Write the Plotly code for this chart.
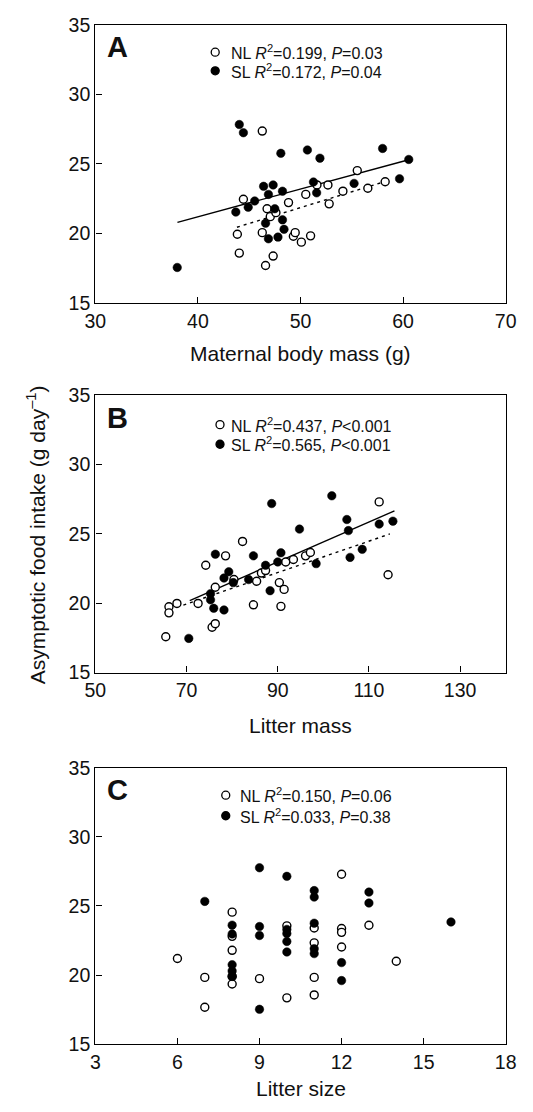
import plotly.graph_objects as go

# ---------------- data ----------------
# Panel A: maternal body mass (g) vs asymptotic food intake (g/day)
a_nl_x = [46.27, 44.43, 43.84, 44.03, 46.27, 46.59, 47.33, 46.74, 47.05, 47.6, 48.83,
          49.3, 49.48, 50.08, 50.51, 50.98, 51.6, 52.67, 52.79, 54.13, 55.53, 56.56, 58.25]
a_nl_y = [27.36, 22.46, 19.95, 18.59, 20.06, 17.70, 18.38, 21.78, 21.21, 21.5, 22.22,
          19.8, 20.06, 19.38, 22.81, 19.83, 23.49, 23.49, 22.13, 23.04, 24.52, 23.25, 23.72]
a_sl_x = [44.03, 44.43, 48.08, 50.67, 51.89, 58.0, 60.55, 59.65, 55.22, 51.26, 51.57, 46.4,
          47.33, 48.24, 46.87, 45.53, 44.9, 43.69, 47.49, 46.59, 48.24, 48.39, 46.87, 47.8, 37.98]
a_sl_y = [27.83, 27.24, 25.76, 26.0, 25.41, 26.11, 25.32, 23.93, 23.6, 23.7, 22.92, 23.39,
          23.49, 23.04, 22.81, 22.34, 21.89, 21.54, 21.78, 20.74, 20.98, 20.3, 19.62, 19.74, 17.56]
a_sl_fit_x = [38.0, 60.55]
a_sl_fit_y = [20.8, 25.3]
a_nl_fit_x = [43.8, 58.3]
a_nl_fit_y = [20.45, 23.75]

# Panel B: litter mass vs asymptotic food intake
b_nl_x = [65.44, 66.14, 66.14, 67.89, 72.53, 74.21, 75.6, 76.3, 76.3, 78.56, 80.39, 82.28,
          84.67, 85.37, 86.42, 87.33, 90.35, 90.7, 91.4, 91.75, 93.44, 96.1, 97.16, 112.25, 114.2]
b_nl_y = [17.59, 19.75, 19.31, 19.99, 19.99, 22.74, 18.27, 18.53, 21.16, 23.42, 21.71, 24.46,
          19.89, 21.59, 22.18, 22.36, 21.49, 19.78, 21.0, 22.98, 23.16, 23.42, 23.66, 27.31, 22.06]
b_sl_x = [70.49, 75.26, 75.26, 75.96, 76.32, 78.21, 79.26, 80.25, 78.21, 83.61, 84.67, 87.33,
          88.32, 88.67, 90.0, 90.7, 94.77, 98.42, 101.86, 105.16, 105.5, 105.86, 108.53, 112.25, 115.26]
b_sl_y = [17.47, 20.69, 20.25, 19.64, 23.54, 21.82, 22.27, 21.49, 19.52, 21.71, 23.42, 22.74,
          20.91, 27.19, 22.98, 23.64, 25.35, 22.86, 27.75, 26.04, 25.24, 23.31, 23.89, 25.71, 25.92]
b_sl_fit_x = [70.7, 115.6]
b_sl_fit_y = [20.2, 26.67]
b_nl_fit_x = [69.3, 114.6]
b_nl_fit_y = [19.87, 25.0]

# Panel C: litter size vs asymptotic food intake
c_nl_x = [6, 7, 7, 8, 8, 8, 8, 8, 9, 10, 10, 11, 11, 11, 11, 12, 12, 12, 12, 13, 14]
c_nl_y = [21.2, 19.83, 17.67, 24.55, 22.8, 21.79, 19.9, 19.35, 19.74, 23.56, 18.35,
          23.4, 22.33, 19.83, 18.56, 27.29, 23.37, 23.09, 22.03, 23.6, 21.0]
c_sl_x = [7, 8, 8, 8, 8, 8, 9, 9, 9, 9, 10, 10, 10, 10, 10, 11, 11, 11, 11, 11, 12, 12, 13, 13, 16]
c_sl_y = [25.33, 23.61, 22.97, 20.75, 20.3, 19.9, 27.76, 23.51, 22.86, 17.52, 27.14, 23.3,
          23.0, 22.43, 21.67, 26.11, 25.64, 23.75, 21.91, 21.55, 20.9, 19.6, 26.0, 25.21, 23.84]

legend_a = ["NL <i>R</i><sup>2</sup>=0.199, <i>P</i>=0.03", "SL <i>R</i><sup>2</sup>=0.172, <i>P</i>=0.04"]
legend_b = ["NL <i>R</i><sup>2</sup>=0.437, <i>P</i>&lt;0.001", "SL <i>R</i><sup>2</sup>=0.565, <i>P</i>&lt;0.001"]
legend_c = ["NL <i>R</i><sup>2</sup>=0.150, <i>P</i>=0.06", "SL <i>R</i><sup>2</sup>=0.033, <i>P</i>=0.38"]

x_titles = ["Maternal body mass (g)", "Litter mass", "Litter size"]
y_title = "Asymptotic food intake (g day<sup>\u20131</sup>)"
y_ticks = [15, 20, 25, 30, 35]
a_xticks = [30, 40, 50, 60, 70]
b_xticks = [50, 70, 90, 110, 130]
c_xticks = [3, 6, 9, 12, 15, 18]

# ---------------- layout ----------------
W, H = 533, 1112
FONT = "Liberation Sans, Arial, Helvetica, sans-serif"
px = lambda v: v / W
py = lambda v: 1 - v / H

fig = go.Figure()

panels = [
    dict(ax="", nlx=a_nl_x, nly=a_nl_y, slx=a_sl_x, sly=a_sl_y,
         fits=[(a_sl_fit_x, a_sl_fit_y, "solid"), (a_nl_fit_x, a_nl_fit_y, "3px,4px")],
         top=14, bot=298, xr=[30, 70], xt=a_xticks, leg=legend_a, letter="A",
         legpos=(213, 227, 42, 61), title_y=349),
    dict(ax="2", nlx=b_nl_x, nly=b_nl_y, slx=b_sl_x, sly=b_sl_y,
         fits=[(b_sl_fit_x, b_sl_fit_y, "solid"), (b_nl_fit_x, b_nl_fit_y, "3px,4px")],
         top=392, bot=675, xr=[50, 140], xt=b_xticks, leg=legend_b, letter="B",
         legpos=(218, 227, 422, 442), title_y=729),
    dict(ax="3", nlx=c_nl_x, nly=c_nl_y, slx=c_sl_x, sly=c_sl_y, fits=[],
         top=772, bot=1054, xr=[3, 18], xt=c_xticks, leg=legend_c, letter="C",
         legpos=(224, 237, 800, 821), title_y=1099),
]

shapes = []
annotations = []
L, R = 88, 516

for k, p in enumerate(panels):
    xa = "x" + p["ax"]
    ya = "y" + p["ax"]
    for fx, fy, dash in p["fits"]:
        fig.add_trace(go.Scatter(x=fx, y=fy, mode="lines", xaxis=xa, yaxis=ya,
                                 line=dict(color="black", width=1.4, dash=dash),
                                 showlegend=False, hoverinfo="skip"))
    fig.add_trace(go.Scatter(x=p["nlx"], y=p["nly"], mode="markers", xaxis=xa, yaxis=ya,
                             marker=dict(symbol="circle", size=8, color="white",
                                         line=dict(color="black", width=1.4)),
                             showlegend=False))
    fig.add_trace(go.Scatter(x=p["slx"], y=p["sly"], mode="markers", xaxis=xa, yaxis=ya,
                             marker=dict(symbol="circle", size=8.5, color="black",
                                         line=dict(color="black", width=0.5)),
                             showlegend=False))
    axcommon = dict(showline=True, mirror=True, linecolor="black", linewidth=1.4,
                    ticks="inside", ticklen=6, tickwidth=1.3, tickcolor="black",
                    showgrid=False, zeroline=False,
                    tickfont=dict(family=FONT, size=19.5, color="#111"))
    fig.update_layout(**{
        "xaxis" + p["ax"]: dict(domain=[px(L), px(R)], range=p["xr"], tickvals=p["xt"],
                                anchor=ya, **axcommon),
        "yaxis" + p["ax"]: dict(domain=[py(p["bot"]), py(p["top"])], range=[15, 35],
                                tickvals=y_ticks, anchor=xa, **axcommon),
    })
    cx, tx, y1, y2 = p["legpos"]
    for i, yy in enumerate([y1, y2]):
        shapes.append(dict(type="circle", xref="paper", yref="paper",
                           xsizemode="pixel", ysizemode="pixel",
                           xanchor=px(cx), yanchor=py(yy),
                           x0=-4, x1=4, y0=-4, y1=4,
                           fillcolor="white" if i == 0 else "black",
                           line=dict(color="black", width=1.3)))
        annotations.append(dict(xref="paper", yref="paper", x=px(tx), y=py(yy),
                                xanchor="left", yanchor="middle", showarrow=False,
                                text=p["leg"][i],
                                font=dict(family=FONT, size=16, color="#111")))
    annotations.append(dict(xref="paper", yref="paper", x=px(111), y=py(p["top"] + 23),
                            xanchor="center", yanchor="middle", showarrow=False,
                            text="<b>" + p["letter"] + "</b>",
                            font=dict(family=FONT, size=29, color="#111")))
    annotations.append(dict(xref="paper", yref="paper", x=px(302), y=py(p["title_y"]),
                            xanchor="center", yanchor="middle", showarrow=False,
                            text=x_titles[k],
                            font=dict(family=FONT, size=21, color="#111")))

annotations.append(dict(xref="paper", yref="paper", x=px(27), y=py(534),
                        xanchor="center", yanchor="middle", showarrow=False,
                        textangle=-90, text=y_title,
                        font=dict(family=FONT, size=21, color="#111")))

fig.update_layout(width=W, height=H, margin=dict(l=0, r=0, t=0, b=0, pad=0),
                  paper_bgcolor="white", plot_bgcolor="white",
                  showlegend=False, shapes=shapes, annotations=annotations)

fig.write_html(
    "out.html",
    config={"displayModeBar": False},
    post_script=(
        "document.documentElement.style.margin='0';"
        "document.documentElement.style.overflow='hidden';"
        "document.body.style.margin='0';"
        "document.body.style.overflow='hidden';"
    ),
)
